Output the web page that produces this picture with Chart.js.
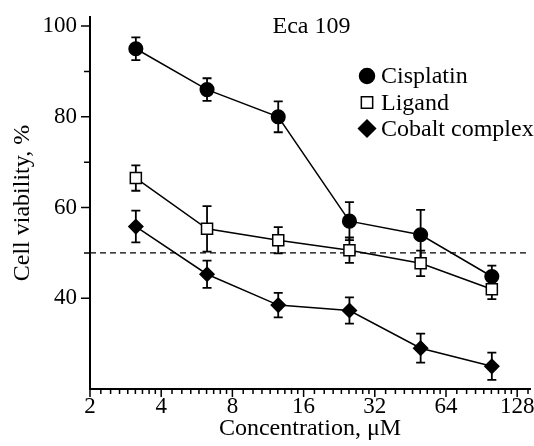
<!DOCTYPE html>
<html>
<head>
<meta charset="utf-8">
<script src="https://cdn.jsdelivr.net/npm/chart.js@4.4.1/dist/chart.umd.min.js"></script>
<style>
  html, body { margin: 0; padding: 0; background: #fff; overflow: hidden; }
</style>
</head>
<body>
<canvas id="viability-chart" width="534" height="446"></canvas>
<script>
var concentrations = [3.125, 6.25, 12.5, 25, 50, 100];
var cisplatin = [95, 86, 80, 57, 54, 44.8];
var cisplatinErr = [2.5, 2.5, 3.4, 4.2, 5.5, 2.4];
var ligand = [66.5, 55.3, 52.8, 50.6, 47.7, 42];
var ligandErr = [2.8, 5, 2.9, 2.8, 2.8, 2.2];
var cobalt = [55.8, 45.3, 38.5, 37.3, 29, 25];
var cobaltErr = [3.5, 3, 2.7, 2.9, 3.2, 3];
var xTickLabels = [2, 4, 8, 16, 32, 64, 128];
var yTickLabels = [40, 60, 80, 100];
var yMinorTicks = [50, 70, 90];
var threshold = 50;
var cellLine = 'Eca 109';

var FONT = "'Liberation Serif', 'Times New Roman', serif";
var X_MIN = 2, X_MAX = 145, Y_MIN = 20, Y_MAX = 102;

function points(values) {
  return values.map(function(v, i) { return { x: concentrations[i], y: v }; });
}

function series(label, values, errors, style, radius, fill) {
  return {
    label: label,
    data: points(values),
    errors: errors,
    showLine: true,
    borderColor: '#000',
    borderWidth: 1.5,
    pointStyle: style,
    pointRadius: radius,
    pointBackgroundColor: fill,
    pointBorderColor: '#000',
    pointBorderWidth: 1.5
  };
}

// error bars go under the markers
var errorBars = {
  id: 'errorBars',
  beforeDatasetsDraw: function(chart) {
    var ctx = chart.ctx, xs = chart.scales.x, ys = chart.scales.y;
    ctx.save();
    ctx.strokeStyle = '#000';
    ctx.lineWidth = 1.8;
    chart.data.datasets.forEach(function(ds) {
      if (!ds.errors) return;
      ds.data.forEach(function(p, i) {
        var px = xs.getPixelForValue(p.x);
        var top = ys.getPixelForValue(p.y + ds.errors[i]);
        var bot = ys.getPixelForValue(p.y - ds.errors[i]);
        ctx.beginPath();
        ctx.moveTo(px, top); ctx.lineTo(px, bot);
        ctx.moveTo(px - 4.5, top); ctx.lineTo(px + 4.5, top);
        ctx.moveTo(px - 4.5, bot); ctx.lineTo(px + 4.5, bot);
        ctx.stroke();
      });
    });
    ctx.restore();
  }
};

// tick marks (major + minor), legend and cell line label
var decorations = {
  id: 'decorations',
  afterDraw: function(chart) {
    var ctx = chart.ctx, xs = chart.scales.x, ys = chart.scales.y;
    var area = chart.chartArea;
    ctx.save();
    ctx.strokeStyle = '#000';
    ctx.lineWidth = 1.5;
    ctx.beginPath();
    xTickLabels.forEach(function(o) {
      var px = xs.getPixelForValue(o);
      ctx.moveTo(px, area.bottom); ctx.lineTo(px, area.bottom + 8);
      for (var k = 1; k <= 8; k++) {
        var v = o * (1 + k / 9);
        if (v > X_MAX) break;
        var mx = xs.getPixelForValue(v);
        ctx.moveTo(mx, area.bottom); ctx.lineTo(mx, area.bottom + 5);
      }
    });
    yTickLabels.forEach(function(v) {
      var py = ys.getPixelForValue(v);
      ctx.moveTo(area.left - 9, py); ctx.lineTo(area.left, py);
    });
    yMinorTicks.forEach(function(v) {
      var py = ys.getPixelForValue(v);
      ctx.moveTo(area.left - 6, py); ctx.lineTo(area.left, py);
    });
    ctx.stroke();

    ctx.fillStyle = '#000';
    ctx.font = '24px ' + FONT;
    ctx.textAlign = 'center';
    ctx.textBaseline = 'alphabetic';
    ctx.fillText(cellLine, 311.5, 33);

    var legendY = [76, 102.5, 128.5];
    var legendSize = [7.5, 8, 8.5];
    ctx.textAlign = 'left';
    ctx.textBaseline = 'middle';
    chart.data.datasets.filter(function(d) { return d.errors; }).forEach(function(ds, i) {
      ctx.fillStyle = ds.pointBackgroundColor;
      ctx.strokeStyle = '#000';
      ctx.lineWidth = 1.5;
      Chart.helpers.drawPoint(ctx, { pointStyle: ds.pointStyle, radius: legendSize[i], borderWidth: 1.5, rotation: 0 }, 367, legendY[i]);
      ctx.fillStyle = '#000';
      ctx.fillText(ds.label, 381, legendY[i] + 1);
    });
    ctx.restore();
  }
};

new Chart(document.getElementById('viability-chart'), {
  type: 'scatter',
  data: {
    datasets: [
      series('Cisplatin', cisplatin, cisplatinErr, 'circle', 6.8, '#000'),
      series('Ligand', ligand, ligandErr, 'rect', 7.8, '#fff'),
      series('Cobalt complex', cobalt, cobaltErr, 'rectRot', 7, '#000'),
      {
        label: 'threshold',
        data: [{ x: X_MIN, y: threshold }, { x: X_MAX, y: threshold }],
        showLine: true,
        borderColor: '#000',
        borderWidth: 1.4,
        borderDash: [6, 4],
        pointRadius: 0,
        order: 10
      }
    ]
  },
  options: {
    responsive: false,
    animation: false,
    events: [],
    layout: { autoPadding: false, padding: { top: 17, right: 4, left: 0, bottom: 0 } },
    plugins: { legend: { display: false }, tooltip: { enabled: false } },
    scales: {
      x: {
        type: 'logarithmic',
        min: X_MIN,
        max: X_MAX,
        afterBuildTicks: function(scale) {
          // unlabelled end tick so the "128" label does not shrink the plot
          scale.ticks = xTickLabels.concat([X_MAX]).map(function(v) { return { value: v }; });
        },
        afterFit: function(scale) {
          scale.height = 57;
          scale.paddingLeft = 0;
          scale.paddingRight = 0;
        },
        grid: { display: false, drawTicks: false },
        border: { display: true, color: '#000', width: 2 },
        ticks: {
          autoSkip: false,
          maxRotation: 0,
          padding: 4,
          color: '#000',
          font: { family: FONT, size: 23 },
          callback: function(v) { return xTickLabels.indexOf(v) >= 0 ? String(v) : ''; }
        },
        title: {
          display: true,
          text: 'Concentration, μM',
          color: '#000',
          font: { family: FONT, size: 24 },
          padding: { top: 0, bottom: 3 }
        }
      },
      y: {
        min: Y_MIN,
        max: Y_MAX,
        afterBuildTicks: function(scale) {
          scale.ticks = yTickLabels.map(function(v) { return { value: v }; });
        },
        afterFit: function(scale) {
          scale.width = 90;
          scale.paddingTop = 0;
          scale.paddingBottom = 0;
        },
        grid: { display: false, drawTicks: false },
        border: { display: true, color: '#000', width: 2 },
        ticks: {
          padding: 13,
          color: '#000',
          font: { family: FONT, size: 23 }
        },
        title: {
          display: true,
          text: 'Cell viability, %',
          color: '#000',
          font: { family: FONT, size: 24 },
          padding: { top: 8, bottom: 0 }
        }
      }
    }
  },
  plugins: [errorBars, decorations]
});
</script>
</body>
</html>
